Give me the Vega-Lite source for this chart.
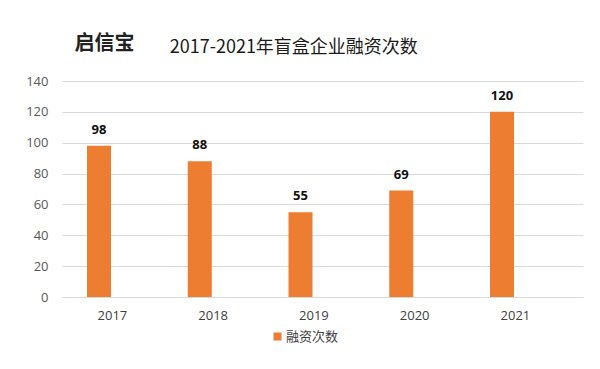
{
  "$schema": "https://vega.github.io/schema/vega-lite/v6.json",
  "width": 521,
  "height": 216,
  "autosize": {"type": "none"},
  "padding": {"left": 62, "top": 81, "right": 17, "bottom": 72},
  "background": "white",
  "title": {
    "text": "2017-2021年盲盒企业融资次数",
    "anchor": "start",
    "dx": 144,
    "dy": 28,
    "font": "Noto Sans CJK SC",
    "fontSize": 18,
    "fontWeight": "normal",
    "color": "#1a1a1a"
  },
  "data": {
    "values": [
      {"year": "2017", "count": 98, "series": "融资次数"},
      {"year": "2018", "count": 88, "series": "融资次数"},
      {"year": "2019", "count": 55, "series": "融资次数"},
      {"year": "2020", "count": 69, "series": "融资次数"},
      {"year": "2021", "count": 120, "series": "融资次数"}
    ]
  },
  "encoding": {
    "x": {
      "field": "year",
      "type": "nominal",
      "scale": {"paddingInner": 0, "paddingOuter": 0.0856, "align": 0},
      "axis": {
        "title": null,
        "labelAngle": 0,
        "ticks": false,
        "domain": true,
        "domainColor": "#d9d9d9",
        "labelFont": "Open Sans",
        "labelFontSize": 13,
        "labelColor": "#404040",
        "labelPadding": 12
      }
    },
    "xOffset": {
      "field": "series",
      "type": "nominal",
      "scale": {"domain": ["融资次数", "占位"], "paddingInner": 0.103, "paddingOuter": 0.935}
    },
    "y": {
      "field": "count",
      "type": "quantitative",
      "scale": {"domain": [0, 140]},
      "axis": {
        "values": [0, 20, 40, 60, 80, 100, 120, 140],
        "title": "启信宝",
        "titleAngle": 0,
        "titleX": 42,
        "titleY": -38,
        "titleAlign": "center",
        "titleBaseline": "middle",
        "titleFont": "Noto Sans CJK SC",
        "titleFontSize": 20,
        "titleFontWeight": "bold",
        "titleColor": "#222222",
        "domain": false,
        "ticks": false,
        "grid": true,
        "gridColor": "#d9d9d9",
        "labelFont": "Open Sans",
        "labelFontSize": 13,
        "labelColor": "#595959",
        "labelPadding": 14
      }
    }
  },
  "layer": [
    {
      "mark": {"type": "bar"},
      "encoding": {
        "color": {
          "field": "series",
          "type": "nominal",
          "scale": {"domain": ["融资次数"], "range": ["#ED7D31"]},
          "legend": {
            "title": null,
            "orient": "none",
            "legendX": 209,
            "legendY": 249,
            "symbolType": "square",
            "symbolSize": 64,
            "symbolStrokeWidth": 0,
            "labelFont": "Noto Sans CJK SC",
            "labelFontSize": 13,
            "labelColor": "#404040",
            "labelOffset": 2
          }
        }
      }
    },
    {
      "mark": {
        "type": "text",
        "dy": -16,
        "font": "Open Sans",
        "fontSize": 13,
        "fontWeight": "bold",
        "color": "#111111"
      },
      "encoding": {
        "text": {"field": "count", "type": "quantitative"}
      }
    }
  ],
  "config": {
    "view": {"stroke": null}
  }
}
